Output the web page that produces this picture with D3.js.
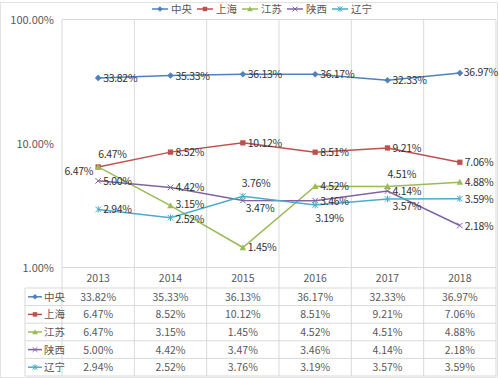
<!DOCTYPE html>
<html>
<head>
<meta charset="utf-8">
<script src="https://cdn.jsdelivr.net/npm/d3@7"></script>
<style>
  body { margin: 0; background: #fff; }
  svg text { font-family: "Noto Sans CJK SC", "Noto Sans", sans-serif; }
</style>
</head>
<body>
<script>
'use strict';

const years = ["2013", "2014", "2015", "2016", "2017", "2018"];
const seriesNames = ["中央", "上海", "江苏", "陕西", "辽宁"];
const zhongyang = [33.82, 35.33, 36.13, 36.17, 32.33, 36.97];
const shanghai = [6.47, 8.52, 10.12, 8.51, 9.21, 7.06];
const jiangsu = [6.47, 3.15, 1.45, 4.52, 4.51, 4.88];
const shaanxi = [5.00, 4.42, 3.47, 3.46, 4.14, 2.18];
const liaoning = [2.94, 2.52, 3.76, 3.19, 3.57, 3.59];
const yTicks = [1, 10, 100];

const allValues = [zhongyang, shanghai, jiangsu, shaanxi, liaoning];
const colors = ["#4f81bd", "#c0504d", "#9bbb59", "#8064a2", "#4bacc6"];
const markers = ["diamond", "square", "triangle", "cross", "star"];

// label placement: [dx, dy, anchor]  (R = right of point)
const R = [5, 4, "start"];
const labelPos = [
    [R, R, R, R, R, [4, 3, "start"]],
    [[0, -9, "start"], R, R, R, R, R],
    [[-5, 8, "end"], [5, 2.5, "start"], R, R, [0, -8, "start"], R],
    [R, R, [3, 12, "start"], R, R, R],
    [R, [5, 5.5, "start"], [-1, -9, "start"], [0, 17, "start"], [5, 11, "start"], R]
];

const W = 499, H = 378;
const m = { left: 62, right: 496, top: 19.5, bottom: 267.5 };
const rowH = 17.6;

const svg = d3.select("body").append("svg")
    .attr("width", W)
    .attr("height", H);

svg.append("rect")
    .attr("x", 0.5).attr("y", 2.5)
    .attr("width", W - 2).attr("height", H - 3)
    .attr("fill", "#fff")
    .attr("stroke", "#e3e3e3");

const x = d3.scaleBand().domain(years).range([m.left, m.right]);
const y = d3.scaleLog().domain([1, 100]).range([m.bottom, m.top]);

const grid = "#d9d9d9";

const headerBottom = m.bottom + 20.5;
const tableBottom = headerBottom + rowH * 5;

// plot frame + vertical grid lines (run down through the table)
svg.append("line")
    .attr("x1", m.left).attr("x2", m.right)
    .attr("y1", m.top).attr("y2", m.top)
    .attr("stroke", grid);
svg.selectAll(".vgrid")
    .data(years.concat(["end"]))
    .enter().append("line")
    .attr("class", "vgrid")
    .attr("x1", (d, i) => i < years.length ? x(d) : m.right)
    .attr("x2", (d, i) => i < years.length ? x(d) : m.right)
    .attr("y1", m.top)
    .attr("y2", tableBottom)
    .attr("stroke", grid);

// y axis labels
svg.selectAll(".ytick")
    .data(yTicks)
    .enter().append("text")
    .attr("x", 54)
    .attr("y", d => y(d) + 4)
    .attr("text-anchor", "end")
    .attr("font-size", "11px")
    .attr("fill", "#595959")
    .text(d => d.toFixed(2) + "%");

// table
svg.append("line")
    .attr("x1", m.left).attr("x2", m.right)
    .attr("y1", m.bottom).attr("y2", m.bottom)
    .attr("stroke", grid);
svg.selectAll(".hrow")
    .data(d3.range(6))
    .enter().append("line")
    .attr("x1", 25).attr("x2", m.right)
    .attr("y1", i => headerBottom + i * rowH)
    .attr("y2", i => headerBottom + i * rowH)
    .attr("stroke", grid);
svg.append("line")
    .attr("x1", 25).attr("x2", 25)
    .attr("y1", headerBottom).attr("y2", tableBottom)
    .attr("stroke", grid);

svg.selectAll(".yearlab")
    .data(years)
    .enter().append("text")
    .attr("x", d => x(d) + x.bandwidth() / 2)
    .attr("y", m.bottom + 14)
    .attr("text-anchor", "middle")
    .attr("font-size", "10.5px")
    .attr("fill", "#595959")
    .text(d => d);

function drawMarker(g, type, color, cx, cy, s) {
    if (type === "diamond") {
        g.append("path")
            .attr("d", `M${cx},${cy - s}L${cx + s},${cy}L${cx},${cy + s}L${cx - s},${cy}Z`)
            .attr("fill", color);
    } else if (type === "square") {
        g.append("rect")
            .attr("x", cx - s * 0.8).attr("y", cy - s * 0.8)
            .attr("width", s * 1.6).attr("height", s * 1.6)
            .attr("fill", color);
    } else if (type === "triangle") {
        g.append("path")
            .attr("d", `M${cx},${cy - s}L${cx + s},${cy + s * 0.8}L${cx - s},${cy + s * 0.8}Z`)
            .attr("fill", color);
    } else if (type === "cross") {
        const k = s * 0.85;
        g.append("path")
            .attr("d", `M${cx - k},${cy - k}L${cx + k},${cy + k}M${cx - k},${cy + k}L${cx + k},${cy - k}`)
            .attr("stroke", color).attr("stroke-width", 1);
    } else {
        const k = s * 0.85;
        g.append("path")
            .attr("d", `M${cx - k},${cy - k}L${cx + k},${cy + k}M${cx - k},${cy + k}L${cx + k},${cy - k}M${cx},${cy - s}L${cx},${cy + s}`)
            .attr("stroke", color).attr("stroke-width", 1);
    }
}

seriesNames.forEach(function(name, si) {
    const vals = allValues[si];
    const color = colors[si];
    const g = svg.append("g");

    const line = d3.line()
        .x((d, i) => x(years[i]) + x.bandwidth() / 2)
        .y(d => y(d));

    g.append("path")
        .datum(vals)
        .attr("d", line)
        .attr("fill", "none")
        .attr("stroke", color)
        .attr("stroke-width", 1.5);

    vals.forEach(function(v, i) {
        drawMarker(g, markers[si], color, x(years[i]) + x.bandwidth() / 2, y(v), 3.3);
    });

    // table row
    const rowY = headerBottom + si * rowH;
    const kg = svg.append("g");
    kg.append("line")
        .attr("x1", 28).attr("x2", 42)
        .attr("y1", rowY + rowH / 2).attr("y2", rowY + rowH / 2)
        .attr("stroke", color).attr("stroke-width", 1.5);
    drawMarker(kg, markers[si], color, 35, rowY + rowH / 2, 2.8);
    kg.append("text")
        .attr("x", 44)
        .attr("y", rowY + rowH / 2 + 4)
        .attr("font-size", "10.5px")
        .attr("fill", "#595959")
        .text(name);

    svg.selectAll(".cell" + si)
        .data(vals)
        .enter().append("text")
        .attr("x", (d, i) => x(years[i]) + x.bandwidth() / 2)
        .attr("y", rowY + rowH / 2 + 4)
        .attr("text-anchor", "middle")
        .attr("font-size", "10.5px")
        .attr("fill", "#595959")
        .text(d => d.toFixed(2) + "%");

    // legend
    const lx = 152 + si * 45;
    const lg = svg.append("g");
    lg.append("line")
        .attr("x1", lx).attr("x2", lx + 16)
        .attr("y1", 9).attr("y2", 9)
        .attr("stroke", color).attr("stroke-width", 1.5);
    drawMarker(lg, markers[si], color, lx + 8, 9, 2.8);
    lg.append("text")
        .attr("x", lx + 19)
        .attr("y", 13)
        .attr("font-size", "10.5px")
        .attr("fill", "#595959")
        .text(name);
});

// data labels drawn last so they sit on top
seriesNames.forEach(function(name, si) {
    svg.selectAll(".lab" + si)
        .data(allValues[si])
        .enter().append("text")
        .attr("x", (d, i) => x(years[i]) + x.bandwidth() / 2 + labelPos[si][i][0])
        .attr("y", (d, i) => y(d) + labelPos[si][i][1])
        .attr("text-anchor", (d, i) => labelPos[si][i][2])
        .attr("font-size", "10.5px")
        .attr("letter-spacing", "-0.3px")
        .attr("fill", "#333")
        .text(d => d.toFixed(2) + "%");
});
</script>
</body>
</html>
